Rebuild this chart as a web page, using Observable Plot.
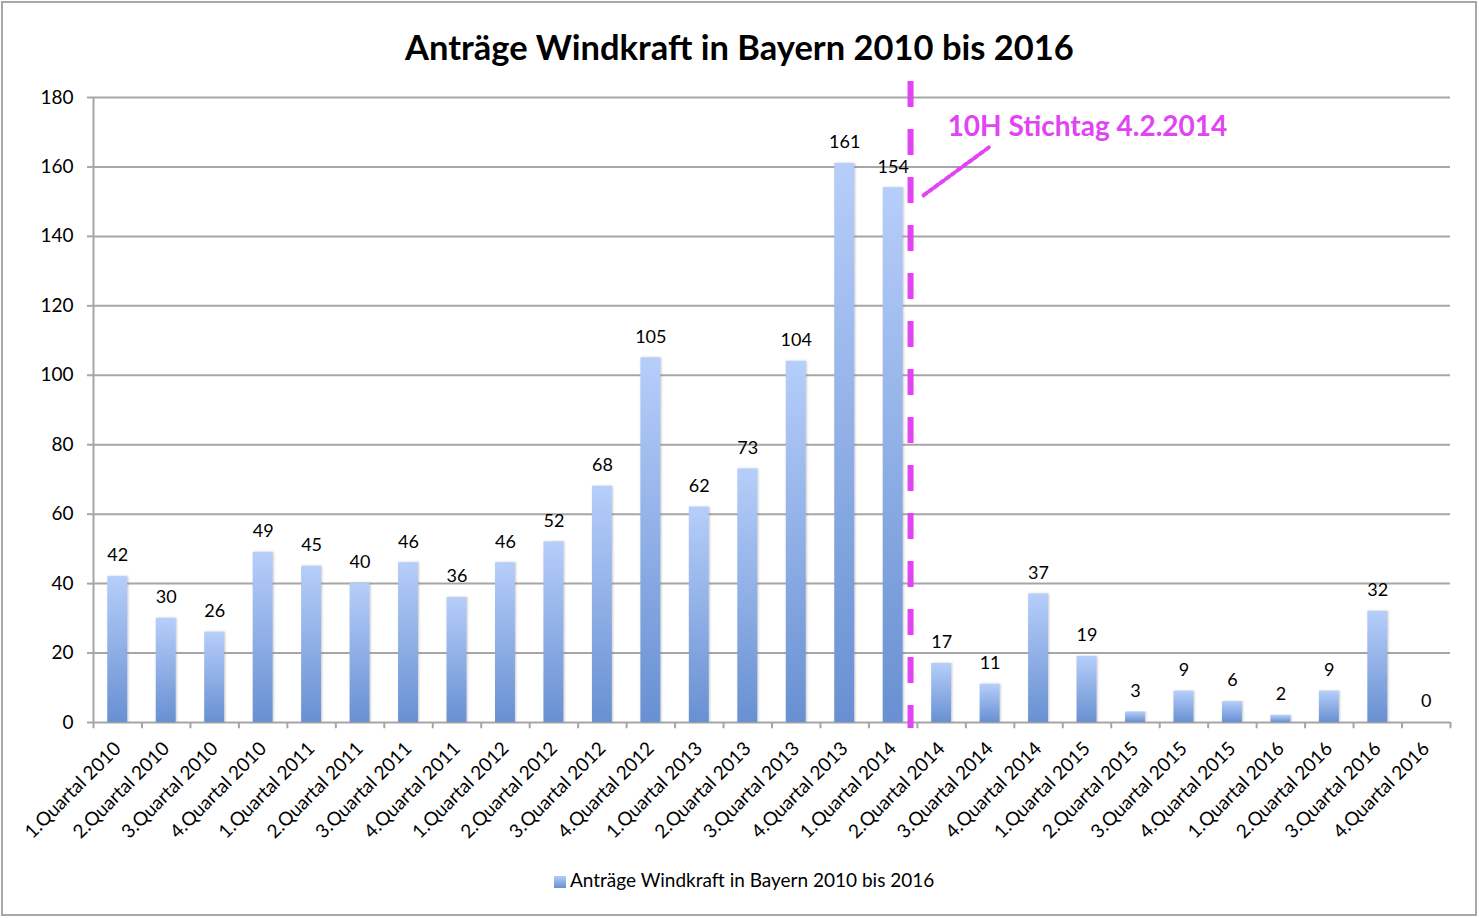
<!DOCTYPE html>
<html>
<head>
<meta charset="utf-8">
<script src="https://cdn.jsdelivr.net/npm/d3@7"></script>
<script src="https://cdn.jsdelivr.net/npm/@observablehq/plot@0.6"></script>
<style>
  html, body { margin: 0; padding: 0; background: #fff; }
  body { font-family: Lato, "Open Sans", sans-serif; width: 1479px; height: 918px; position: relative; overflow: hidden; }
  #frame { position: absolute; left: 1px; top: 1px; width: 1476px; height: 915px; box-sizing: border-box; border: 2px solid #a8a8a8; pointer-events: none; }
  #title { position: absolute; left: 0; top: 0; width: 1479px; height: 80px; box-sizing: border-box; padding-top: 27px; line-height: 40px; text-align: center; font-weight: bold; font-size: 34.5px; color: #000; }
  #chart { position: absolute; left: 0; top: 80px; }
  #legend { position: absolute; left: 554px; top: 870px; height: 20px; line-height: 20px; font-size: 19px; color: #000; white-space: nowrap; }
  #legend .sw { display: inline-block; width: 12px; height: 12px; margin-right: 4px; vertical-align: -1px; background: linear-gradient(#b5cdf9, #6890d2); }
  #chart g[aria-label="bar"] rect { filter: url(#barShadow); }
</style>
</head>
<body>
<div id="title"></div>
<div id="chart"></div>
<div id="legend"></div>
<div id="frame"></div>
<script>
const titleText = "Anträge Windkraft in Bayern 2010 bis 2016";
const seriesName = "Anträge Windkraft in Bayern 2010 bis 2016";
const quarters = [
  "1.Quartal 2010", "2.Quartal 2010", "3.Quartal 2010", "4.Quartal 2010",
  "1.Quartal 2011", "2.Quartal 2011", "3.Quartal 2011", "4.Quartal 2011",
  "1.Quartal 2012", "2.Quartal 2012", "3.Quartal 2012", "4.Quartal 2012",
  "1.Quartal 2013", "2.Quartal 2013", "3.Quartal 2013", "4.Quartal 2013",
  "1.Quartal 2014", "2.Quartal 2014", "3.Quartal 2014", "4.Quartal 2014",
  "1.Quartal 2015", "2.Quartal 2015", "3.Quartal 2015", "4.Quartal 2015",
  "1.Quartal 2016", "2.Quartal 2016", "3.Quartal 2016", "4.Quartal 2016"
];
const values = [42, 30, 26, 49, 45, 40, 46, 36, 46, 52, 68, 105, 62, 73, 104, 161, 154, 17, 11, 37, 19, 3, 9, 6, 2, 9, 32, 0];
const yTicks = [0, 20, 40, 60, 80, 100, 120, 140, 160, 180];
const markerQuarter = "1.Quartal 2014";
const annotationQuarter = "2.Quartal 2014";
const annotationText = "10H Stichtag 4.2.2014";
const annotationY = 171.6;
const pointerFrom = {q: "1.Quartal 2014", y: 145.4};
const pointerTo = {q: "3.Quartal 2014", y: 165.9};
const markerYRange = [184.6, -1.73];

const magenta = "#e144f2";
const data = quarters.map((q, i) => ({q, v: values[i]}));

document.getElementById("title").textContent = titleText;
document.getElementById("legend").innerHTML = '<span class="sw"></span>' + seriesName;

const defsMark = () => {
  const ns = "http://www.w3.org/2000/svg";
  const defs = document.createElementNS(ns, "defs");
  const g = document.createElementNS(ns, "linearGradient");
  g.setAttribute("id", "barGrad");
  g.setAttribute("x1", "0"); g.setAttribute("y1", "0");
  g.setAttribute("x2", "0"); g.setAttribute("y2", "1");
  [["0", "#b6cefa"], ["1", "#6890d2"]].forEach(([o, c]) => {
    const s = document.createElementNS(ns, "stop");
    s.setAttribute("offset", o); s.setAttribute("stop-color", c);
    g.appendChild(s);
  });
  defs.appendChild(g);
  const f = document.createElementNS(ns, "filter");
  f.setAttribute("id", "barShadow");
  f.setAttribute("x", "-30%"); f.setAttribute("y", "-5%");
  f.setAttribute("width", "160%"); f.setAttribute("height", "110%");
  const ds = document.createElementNS(ns, "feDropShadow");
  ds.setAttribute("dx", "1"); ds.setAttribute("dy", "0");
  ds.setAttribute("stdDeviation", "1.2");
  ds.setAttribute("flood-color", "#808080");
  ds.setAttribute("flood-opacity", "0.45");
  f.appendChild(ds);
  defs.appendChild(f);
  return defs;
};

const chart = Plot.plot({
  width: 1479,
  height: 790,
  marginLeft: 93,
  marginRight: 29,
  marginTop: 0,
  marginBottom: 148,
  style: {fontFamily: "Lato, 'Open Sans', sans-serif", fontSize: "17px", color: "#000", background: "transparent", overflow: "visible"},
  x: {domain: quarters, paddingInner: 0.59, paddingOuter: 0.295, round: false, label: null},
  y: {domain: [0, 180], range: [642, 17], label: null},
  marks: [
    defsMark,
    Plot.ruleY(yTicks, {stroke: "#a6a6a6", strokeWidth: 2}),
    Plot.axisY({ticks: yTicks, tickSize: 6, tickPadding: 14, stroke: "#a6a6a6", strokeWidth: 2, fill: "#000", fontSize: 19, label: null, strokeOpacity: 1}),
    Plot.axisX({tickSize: 0, tickRotate: -45, tickPadding: 23, dx: 0, fill: "#000", fontSize: 19, label: null}),
    Plot.ruleX(quarters, {x: d => d, y1: 0, y2: -1.8, dx: -24.23, stroke: "#a6a6a6", strokeWidth: 2}),
    Plot.ruleX([quarters[quarters.length - 1]], {x: d => d, y1: 0, y2: -1.8, dx: 24.23, stroke: "#a6a6a6", strokeWidth: 2}),
    Plot.ruleX([quarters[0]], {x: d => d, y1: 0, y2: 180, dx: -24.23, stroke: "#a6a6a6", strokeWidth: 2}),
    Plot.barY(data, {x: "q", y: "v", fill: "url(#barGrad)"}),
    Plot.ruleX([markerQuarter], {x: d => d, y1: markerYRange[0], y2: markerYRange[1], dx: 17.4, stroke: magenta, strokeWidth: 6, strokeDasharray: "26,22"}),
    Plot.text(data, {x: "q", y: "v", text: d => String(d.v), dy: -21, fontSize: 18, fill: "#000"}),
    Plot.arrow([{a: pointerFrom, b: pointerTo}], {
      x1: d => d.a.q, y1: d => d.a.y, x2: d => d.b.q, y2: d => d.b.y,
      insetStart: 37.7, insetEnd: 0, headLength: 0, bend: 0,
      stroke: magenta, strokeWidth: 4, strokeDasharray: "4,3"
    }),
    Plot.text([annotationText], {x: () => annotationQuarter, y: () => annotationY, text: d => d, textAnchor: "start", dx: 6, fontSize: 28, fontWeight: "bold", fill: magenta})
  ]
});
document.getElementById("chart").appendChild(chart);
</script>
</body>
</html>
